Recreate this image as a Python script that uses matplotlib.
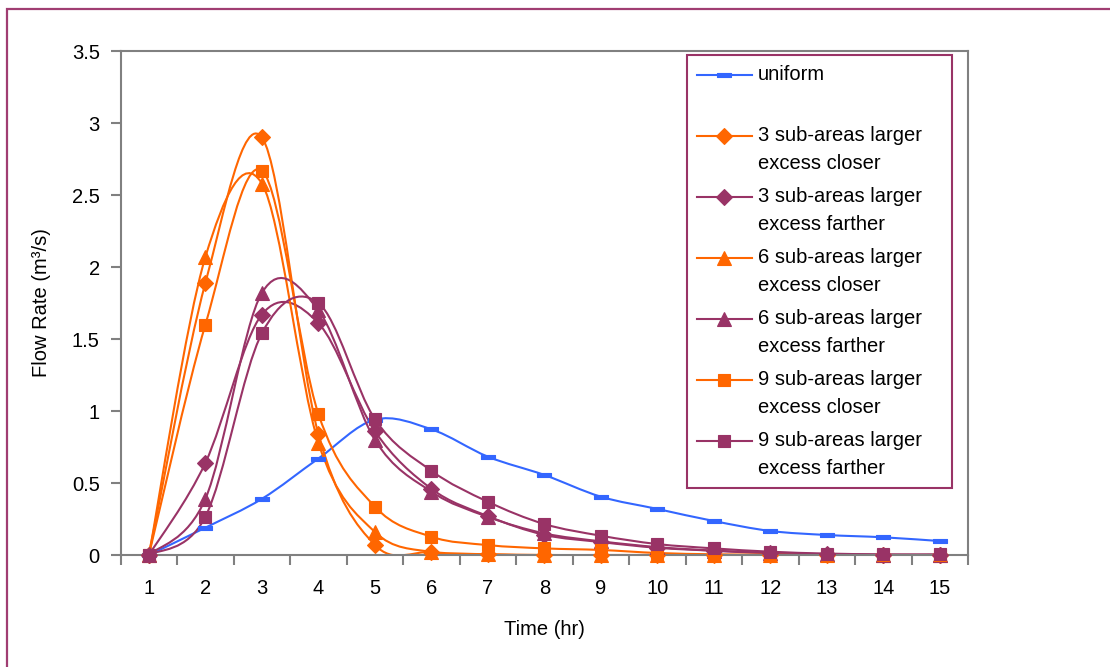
import numpy as np
import matplotlib
matplotlib.use("Agg")
import matplotlib.pyplot as plt
from matplotlib.path import Path
from matplotlib.patches import PathPatch, Rectangle
from matplotlib.lines import Line2D
from matplotlib.legend_handler import HandlerLine2D

plt.rcParams['font.family'] = ['Liberation Sans', 'DejaVu Sans']

hours = list(range(1, 16))
uniform = [0, 0.19, 0.39, 0.67, 0.94, 0.873, 0.683, 0.556, 0.405, 0.32, 0.236, 0.167, 0.139, 0.123, 0.097]
closer_3 = [0, 1.89, 2.90, 0.84, 0.07, 0.02, 0.005, 0, 0, 0, 0, 0, 0, 0, 0]
farther_3 = [0, 0.64, 1.67, 1.61, 0.86, 0.46, 0.27, 0.14, 0.09, 0.05, 0.03, 0.015, 0.005, 0, 0]
closer_6 = [0, 2.07, 2.58, 0.78, 0.16, 0.02, 0.005, 0, 0, 0, 0, 0, 0, 0, 0]
farther_6 = [0, 0.39, 1.82, 1.70, 0.80, 0.44, 0.265, 0.15, 0.095, 0.055, 0.03, 0.012, 0.005, 0, 0]
closer_9 = [0, 1.60, 2.67, 0.98, 0.336, 0.127, 0.069, 0.046, 0.035, 0.014, 0.005, 0.002, 0, 0, 0]
farther_9 = [0, 0.266, 1.54, 1.75, 0.944, 0.585, 0.37, 0.215, 0.134, 0.076, 0.046, 0.023, 0.01, 0.005, 0.005]

labels = ['uniform\n',
          '3 sub-areas larger\nexcess closer',
          '3 sub-areas larger\nexcess farther',
          '6 sub-areas larger\nexcess closer',
          '6 sub-areas larger\nexcess farther',
          '9 sub-areas larger\nexcess closer',
          '9 sub-areas larger\nexcess farther']

BLUE = '#3366ff'
ORANGE = '#ff6600'
PURPLE = '#993366'
GREY = '#808080'
FS = 14.5
LEG_SHIFT = 10  # points, puts the legend marker on the first text line

dash = Path([(-1, -0.32), (1, -0.32), (1, 0.32), (-1, 0.32), (-1, -0.32)],
            [Path.MOVETO, Path.LINETO, Path.LINETO, Path.LINETO, Path.CLOSEPOLY])

# (values, colour, marker, marker size)
series = [
    (uniform, BLUE, dash, 10),
    (closer_3, ORANGE, 'D', 8.5),
    (farther_3, PURPLE, 'D', 8.5),
    (closer_6, ORANGE, '^', 9.5),
    (farther_6, PURPLE, '^', 9.5),
    (closer_9, ORANGE, 's', 9.0),
    (farther_9, PURPLE, 's', 9.0),
]


def smooth_path(x, y):
    # smoothed line like excel: bezier segments through every point
    pts = np.column_stack([x, y]).astype(float)
    ext = np.vstack([pts[0], pts, pts[-1]])
    verts = [pts[0]]
    codes = [Path.MOVETO]
    for i in range(len(pts) - 1):
        p0, p1, p2, p3 = ext[i], ext[i + 1], ext[i + 2], ext[i + 3]
        verts += [p1 + (p2 - p0) / 6, p2 - (p3 - p1) / 6, p2]
        codes += [Path.CURVE4] * 3
    return Path(verts, codes)


class FirstLineHandler(HandlerLine2D):
    def create_artists(self, legend, orig_handle, xdescent, ydescent,
                       width, height, fontsize, trans):
        artists = super().create_artists(legend, orig_handle, xdescent, ydescent,
                                         width, height, fontsize, trans)
        for a in artists:
            a.set_ydata(np.asarray(a.get_ydata()) + LEG_SHIFT)
        return artists


fig = plt.figure(figsize=(11.1, 6.67), dpi=100)
ax = fig.add_axes([0.1087, 0.1679, 0.7634, 0.7556])

handles = []
for (vals, col, mk, ms), lab in zip(series, labels):
    ax.add_patch(PathPatch(smooth_path(hours, vals), facecolor='none',
                           edgecolor=col, lw=1.5))
    ax.plot(hours, vals, ls='none', marker=mk, ms=ms, color=col,
            mec=col, mew=0.8, clip_on=False, zorder=3)
    handles.append(Line2D([], [], color=col, lw=1.5, marker=mk, ms=ms,
                          mec=col, mew=0.8))

ax.set_xlim(0.5, 15.5)
ax.set_ylim(0, 3.5)
ax.set_xticks(hours)
ax.set_xticks(np.arange(0.5, 16, 1), minor=True)
ax.set_yticks(np.arange(0, 3.51, 0.5))
ax.set_yticklabels(['{:g}'.format(v) for v in np.arange(0, 3.51, 0.5)])
ax.tick_params(axis='x', which='major', length=0, pad=17, labelsize=FS)
ax.tick_params(axis='x', which='minor', length=7, width=1.5, color=GREY)
ax.tick_params(axis='y', length=7, width=1.5, color=GREY, pad=8, labelsize=FS)
for sp in ax.spines.values():
    sp.set_color(GREY)
    sp.set_linewidth(1.5)

ax.set_xlabel('Time (hr)', fontsize=FS)
ax.xaxis.set_label_coords(0.5, -0.129)
ax.set_ylabel('Flow Rate (m³/s)', fontsize=FS)
ax.yaxis.set_label_coords(-0.082, 0.5)

leg = ax.legend(handles, labels, loc='upper left', mode='expand',
                bbox_to_anchor=(0.668, 0.0, 0.313, 0.9915), borderaxespad=0,
                fontsize=FS, handlelength=2.75, handletextpad=0.3,
                borderpad=0.5, labelspacing=0.69, fancybox=False,
                framealpha=1, edgecolor=PURPLE,
                handler_map={Line2D: FirstLineHandler()})
leg.get_frame().set_linewidth(1.5)
for t in leg.get_texts():
    t.set_linespacing(1.6)

# chart area border (only left and top edges fall inside the picture)
fig.patches.append(Rectangle((0.006, -0.2), 1.5, 1.1865, transform=fig.transFigure,
                             fill=False, edgecolor='#a03d72', lw=1.6))

fig.savefig('out.png', dpi=100)
